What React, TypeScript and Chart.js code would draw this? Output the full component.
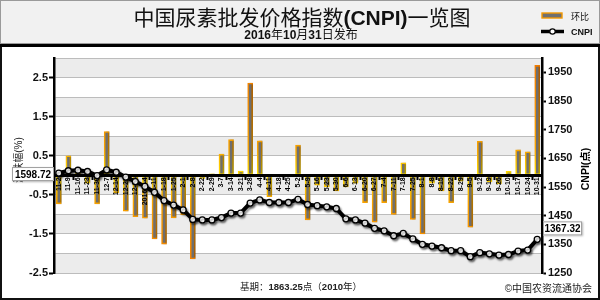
import React, { useEffect, useRef } from 'react';
import { Chart, registerables } from 'chart.js';

Chart.register(...registerables);

const categories = [
  '11-2', '11-9', '11-16', '11-23', '11-30', '12-7', '12-14', '12-21', '12-28', '2016-1-4',
  '1-11', '1-18', '1-25', '2-1', '2-8', '2-22', '2-29', '3-7', '3-14', '3-21',
  '3-28', '4-4', '4-11', '4-18', '4-25', '5-2', '5-9', '5-16', '5-23', '5-30',
  '6-6', '6-13', '6-20', '6-27', '7-4', '7-11', '7-18', '7-25', '8-1', '8-8',
  '8-15', '8-22', '8-29', '9-5', '9-12', '9-19', '9-26', '10-10', '10-17', '10-24', '10-31',
];

const changePct = [
  -0.73, 0.5, 0.1, -0.2, -0.73, 1.12, -0.45, -0.92, -1.06, -1.1,
  -1.63, -1.76, -1.09, -1.01, -2.14, -0.08, 0.04, 0.54, 0.91, 0.11,
  2.36, 0.88, -0.55, -0.02, -0.02, 0.77, -1.14, -0.25, -0.3, -0.4,
  -0.3, -0.2, -0.7, -1.2, -0.7, -1.0, 0.32, -1.13, -1.5, -0.2,
  -0.4, -0.7, -0.15, -1.33, 0.87, -0.17, -0.22, 0.1, 0.65, 0.6, 2.81,
];

const cnpi = [
  1598.72, 1606.6, 1608.5, 1604, 1590, 1610, 1601.5, 1584.6, 1569, 1552,
  1531.5, 1502.5, 1487, 1470, 1437, 1435, 1435, 1443.5, 1459, 1459,
  1494, 1505, 1496, 1496, 1496, 1507, 1489, 1485, 1481, 1475,
  1439, 1435, 1424, 1406, 1397, 1380, 1388, 1369, 1350, 1344,
  1338, 1328, 1328, 1307, 1321, 1317, 1312.5, 1314.5, 1326.5, 1330, 1367.32,
];

const leftTicks = [-2.5, -2, -1.5, -1, -0.5, 0, 0.5, 1, 1.5, 2, 2.5, 3];
const leftLabeled = [-2.5, -1.5, -0.5, 0.5, 1.5, 2.5];
const rightTicks = [1250, 1350, 1450, 1550, 1650, 1750, 1850, 1950];

const titleText = '中国尿素批发价格指数(CNPI)一览图';
const subtitleText = '2016年10月31日发布';
const baseText = '基期：1863.25点（2010年）';
const copyrightText = '©中国农资流通协会';
const legendBar = '环比';
const legendLine = 'CNPI';
const leftTitle = '涨跌幅(%)';
const rightTitle = 'CNPI(点)';

const LATIN = "'Liberation Sans', Arial, sans-serif";
const CJK = "'Noto Sans CJK SC', sans-serif";

type Run = { t: string; latin: boolean };

function runs(text: string): Run[] {
  const out: Run[] = [];
  let cur = '';
  let curLatin: boolean | null = null;
  for (const ch of text) {
    const latin = ch.charCodeAt(0) < 0x2000;
    if (curLatin === null || latin === curLatin) {
      cur += ch;
      curLatin = latin;
    } else {
      out.push({ t: cur, latin: curLatin });
      cur = ch;
      curLatin = latin;
    }
  }
  if (cur) out.push({ t: cur, latin: !!curLatin });
  return out;
}

function fontFor(latin: boolean, size: number, lw: string, cw: string) {
  return latin ? `${lw} ${size}px ${LATIN}` : `${cw} ${size}px ${CJK}`;
}

function drawMixed(
  ctx: CanvasRenderingContext2D,
  text: string,
  x: number,
  y: number,
  size: number,
  align: 'left' | 'center' | 'right',
  lw = 'bold',
  cw = 'normal'
) {
  const rs = runs(text);
  const widths = rs.map((r) => {
    ctx.font = fontFor(r.latin, size, lw, cw);
    return ctx.measureText(r.t).width;
  });
  const total = widths.reduce((a, b) => a + b, 0);
  let sx = align === 'center' ? x - total / 2 : align === 'right' ? x - total : x;
  ctx.textAlign = 'left';
  ctx.textBaseline = 'alphabetic';
  rs.forEach((r, i) => {
    ctx.font = fontFor(r.latin, size, lw, cw);
    ctx.fillText(r.t, sx, y);
    sx += widths[i];
  });
  return total;
}

function barBorder(c: any) {
  const chart = c.chart;
  const { chartArea, scales } = chart;
  if (!chartArea || !scales.y) return '#f39800';
  const ys = scales.y;
  const yt = ys.getPixelForValue(ys.max);
  const yb = ys.getPixelForValue(ys.min);
  const y0 = ys.getPixelForValue(0);
  const f = (y0 - yt) / (yb - yt);
  const g = chart.ctx.createLinearGradient(0, yt, 0, yb);
  g.addColorStop(0, '#f07800');
  g.addColorStop(Math.max(0, f - 0.12), '#f8a400');
  g.addColorStop(f, '#ffe000');
  g.addColorStop(Math.min(1, f + 0.12), '#f8a400');
  g.addColorStop(1, '#f07800');
  return g;
}

const decoPlugin = {
  id: 'deco',
  beforeDraw(chart: any) {
    const { ctx, chartArea: a, scales } = chart;
    const W = chart.width;
    const H = chart.height;
    ctx.save();
    ctx.fillStyle = '#ffffff';
    ctx.fillRect(0, 0, W, H);
    ctx.fillStyle = '#f1f1f1';
    ctx.fillRect(0, 0, W, 43);
    ctx.fillStyle = '#000000';
    ctx.fillRect(0, 43, W, 4);
    const ys = scales.y;
    ctx.fillStyle = '#ececec';
    for (let v = ys.min; v < ys.max - 0.01; v += 1) {
      const top = ys.getPixelForValue(Math.min(v + 0.5, ys.max));
      const bot = ys.getPixelForValue(v);
      ctx.fillRect(a.left, top, a.right - a.left, bot - top);
    }
    ctx.restore();
  },
  beforeDatasetDraw(chart: any, args: any) {
    if (args.meta.type === 'line') return false;
    const ctx = chart.ctx;
    ctx.save();
    ctx.shadowColor = 'rgba(0,0,0,0.3)';
    ctx.shadowOffsetX = 2;
    ctx.shadowOffsetY = 0;
    ctx.shadowBlur = 1;
    return true;
  },
  afterDatasetDraw(chart: any, args: any) {
    if (args.meta.type !== 'line') chart.ctx.restore();
  },
  afterDraw(chart: any) {
    const { ctx, chartArea: a, scales } = chart;
    const W = chart.width;
    const H = chart.height;

    // line series drawn above axis labels
    const lineMeta = chart.getDatasetMeta(1);
    ctx.save();
    ctx.shadowColor = 'rgba(0,0,0,0.4)';
    ctx.shadowOffsetX = 1.5;
    ctx.shadowOffsetY = 2;
    ctx.shadowBlur = 2;
    lineMeta.controller.draw();
    ctx.restore();

    ctx.save();
    ctx.fillStyle = '#000';

    // axis titles
    ctx.save();
    ctx.translate(18.5, 160);
    ctx.rotate(-Math.PI / 2);
    ctx.fillStyle = '#222';
    drawMixed(ctx, leftTitle, 0, 3.6, 10, 'center', 'normal', 'normal');
    ctx.restore();

    ctx.save();
    ctx.translate(585, 169);
    ctx.rotate(-Math.PI / 2);
    drawMixed(ctx, rightTitle, 0, 3.8, 10.5, 'center', 'bold', 'bold');
    ctx.restore();

    // value boxes
    const y2 = scales.y2;
    const firstVal = cnpi[0];
    const lastVal = cnpi[cnpi.length - 1];
    const drawBox = (x: number, y: number, w: number, h: number, text: string) => {
      ctx.save();
      ctx.shadowColor = 'rgba(0,0,0,0.3)';
      ctx.shadowOffsetX = 1;
      ctx.shadowOffsetY = 1;
      ctx.shadowBlur = 2;
      ctx.fillStyle = '#ffffff';
      ctx.fillRect(x, y, w, h);
      ctx.restore();
      ctx.strokeStyle = '#a0a0a0';
      ctx.lineWidth = 1;
      ctx.strokeRect(x + 0.5, y + 0.5, w - 1, h - 1);
      ctx.fillStyle = '#000';
      drawMixed(ctx, text, x + w / 2, y + h / 2 + 3.6, 10, 'center');
    };
    const fy = y2.getPixelForValue(firstVal);
    drawBox(a.left - 42, fy - 6, 42, 14, firstVal.toFixed(2));
    const ly = y2.getPixelForValue(lastVal);
    drawBox(a.right + 1, ly - 18, 39, 14, lastVal.toFixed(2));

    // title & subtitle
    ctx.fillStyle = '#111';
    drawMixed(ctx, titleText, 302, 25, 21, 'center', 'bold', 'normal');
    drawMixed(ctx, subtitleText, 301, 38.5, 12, 'center', 'bold', 'normal');

    // legend
    ctx.fillStyle = '#707070';
    ctx.fillRect(542, 13, 20, 5);
    ctx.strokeStyle = '#f39800';
    ctx.lineWidth = 1.4;
    ctx.strokeRect(542, 13, 20, 5);
    ctx.fillStyle = '#111';
    drawMixed(ctx, legendBar, 571, 19.5, 9, 'left', 'normal', 'normal');
    ctx.strokeStyle = '#000';
    ctx.lineWidth = 3.5;
    ctx.beginPath();
    ctx.moveTo(541, 31.5);
    ctx.lineTo(564, 31.5);
    ctx.stroke();
    ctx.beginPath();
    ctx.arc(552.5, 31.5, 2.7, 0, Math.PI * 2);
    ctx.fillStyle = '#fff';
    ctx.fill();
    ctx.lineWidth = 1.2;
    ctx.stroke();
    ctx.fillStyle = '#111';
    drawMixed(ctx, legendLine, 571, 35, 9, 'left', 'bold', 'normal');

    // footer texts
    ctx.fillStyle = '#222';
    drawMixed(ctx, baseText, 301, 289.5, 9.5, 'center', 'bold', 'normal');
    drawMixed(ctx, copyrightText, 592, 292, 10, 'right', 'normal', 'normal');

    // frame
    ctx.strokeStyle = '#9a9a9a';
    ctx.lineWidth = 1;
    ctx.strokeRect(0.5, 0.5, W - 1, 43);
    ctx.strokeStyle = '#111';
    ctx.lineWidth = 2;
    ctx.beginPath();
    ctx.moveTo(1, 47);
    ctx.lineTo(1, H - 1);
    ctx.lineTo(W - 1, H - 1);
    ctx.lineTo(W - 1, 47);
    ctx.stroke();
    ctx.restore();
  },
};

export default function App() {
  const ref = useRef<HTMLCanvasElement>(null);
  useEffect(() => {
    document.body.style.margin = '0';
    const canvas = ref.current;
    if (!canvas) return;
    const chart = new Chart(canvas, {
      type: 'bar',
      data: {
        labels: categories,
        datasets: [
          {
            type: 'bar',
            label: legendBar,
            data: changePct,
            yAxisID: 'y',
            backgroundColor: '#6e6e6e',
            borderColor: barBorder as any,
            borderWidth: 1.6,
            borderSkipped: false,
            barThickness: 5,
          } as any,
          {
            type: 'line',
            label: legendLine,
            data: cnpi,
            yAxisID: 'y2',
            borderColor: '#000',
            borderWidth: 4,
            pointRadius: 3,
            pointBorderWidth: 1.3,
            pointBackgroundColor: '#fff',
            pointBorderColor: '#000',
            tension: 0,
          } as any,
        ],
      },
      options: {
        responsive: false,
        animation: false,
        devicePixelRatio: 1,
        events: [],
        layout: { padding: { top: 58, bottom: 27, left: 0, right: 0 } },
        plugins: {
          legend: { display: false },
          tooltip: { enabled: false },
          title: { display: false },
        },
        scales: {
          x: {
            type: 'category',
            position: { y: 0 } as any,
            offset: true,
            grid: {
              display: true,
              drawOnChartArea: false,
              drawTicks: true,
              tickLength: 3,
              tickWidth: 2,
              tickColor: (c: any) => (c.index % 2 === 0 ? '#000' : 'rgba(0,0,0,0)'),
              offset: true,
              z: 1,
            } as any,
            border: { display: true, color: '#000', width: 3, z: 1 } as any,
            ticks: {
              autoSkip: false,
              minRotation: 90,
              maxRotation: 90,
              padding: -1,
              color: '#000',
              font: { family: LATIN, size: 7, weight: 'bold' },
              z: 1,
            },
            afterFit: (s: any) => {
              s.height = 0;
            },
          } as any,
          y: {
            position: 'left',
            min: -2.5,
            max: 3,
            afterBuildTicks: (s: any) => {
              s.ticks = leftTicks.map((v) => ({ value: v }));
            },
            afterFit: (s: any) => {
              s.width = 54;
            },
            grid: {
              color: '#bcbcbc',
              lineWidth: 1,
              drawTicks: true,
              tickLength: 5,
              tickWidth: 2,
              tickColor: (c: any) =>
                c.tick && leftLabeled.includes(c.tick.value) ? '#000' : 'rgba(0,0,0,0)',
            } as any,
            border: { display: true, color: '#000', width: 2.5 },
            ticks: {
              padding: 1,
              color: '#111',
              font: { family: LATIN, size: 11, weight: 'bold' },
              callback: (v: any) => (leftLabeled.includes(Number(v)) ? Number(v).toFixed(1) : ''),
            },
          } as any,
          y2: {
            position: 'right',
            min: 1250,
            max: 2000,
            afterBuildTicks: (s: any) => {
              s.ticks = rightTicks.map((v) => ({ value: v }));
            },
            afterFit: (s: any) => {
              s.width = 58;
            },
            grid: {
              drawOnChartArea: false,
              drawTicks: true,
              tickLength: 4,
              tickWidth: 2,
              tickColor: '#000',
            },
            border: { display: true, color: '#000', width: 2.5 },
            ticks: {
              padding: 2,
              color: '#111',
              font: { family: LATIN, size: 11, weight: 'bold' },
              callback: (v: any) => String(v),
            },
          } as any,
        },
      },
      plugins: [decoPlugin as any],
    });
    return () => {
      chart.destroy();
    };
  }, []);

  return (
    <div style={{ position: 'fixed', left: 0, top: 0, width: 600, height: 300 }}>
      <canvas ref={ref} width={600} height={300} style={{ display: 'block' }} />
    </div>
  );
}
